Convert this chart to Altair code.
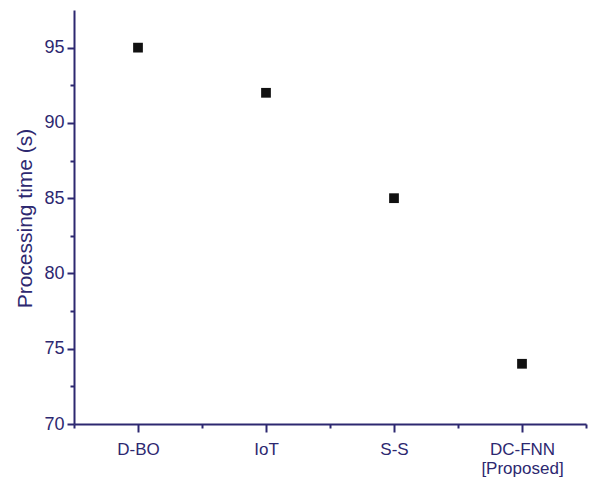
import altair as alt
import pandas as pd

methods = ["D-BO", "IoT", "S-S", "DC-FNN [Proposed]"]
times = [95, 92, 85, 74]
label_lines = [["D-BO"], ["IoT"], ["S-S"], ["DC-FNN", "[Proposed]"]]

df = pd.DataFrame({"idx": list(range(len(methods))), "method": methods, "time": times})

NAVY = "#2d2870"
FONT = "Liberation Sans"

# label expression built from the label list
parts = []
for i, lines in enumerate(label_lines):
    arr = "[" + ",".join("'" + s + "'" for s in lines) + "]"
    parts.append(f"datum.value == {i} ? {arr} : ")
x_label_expr = "".join(parts) + "''"

x_vals = [i * 0.5 - 0.5 for i in range(2 * len(methods) + 1)]
y_vals = [70 + 2.5 * i for i in range(11)]

common = dict(
    domainColor=NAVY,
    domainWidth=2,
    tickColor=NAVY,
    tickWidth=2,
    labelColor=NAVY,
    titleColor=NAVY,
    labelFont=FONT,
    titleFont=FONT,
    grid=False,
    labelFlush=False,
    labelOverlap=False,
)

chart = alt.Chart(df).mark_square(size=95, color="#111111", opacity=1).encode(
    x=alt.X(
        "idx:Q",
        scale=alt.Scale(domain=[-0.5, len(methods) - 0.5], nice=False, zero=False),
        axis=alt.Axis(
            title=None,
            values=x_vals,
            labelExpr=x_label_expr,
            tickSize={"condition": {"test": "datum.value % 1 != 0", "value": 4}, "value": 8},
            labelPadding=9,
            labelFontSize=17,
            labelLineHeight=19,
            labelBaseline="top",
            **common,
        ),
    ),
    y=alt.Y(
        "time:Q",
        scale=alt.Scale(domain=[70, 97.5], nice=False, zero=False),
        axis=alt.Axis(
            title="Processing time (s)",
            values=y_vals,
            labelExpr="datum.value % 5 == 0 ? datum.label : ''",
            tickSize={"condition": {"test": "datum.value % 5 != 0", "value": 4}, "value": 7},
            labelPadding=3,
            labelFontSize=18,
            titleFontSize=21,
            titleFontWeight="normal",
            titleX=-49,
            titleY=208,
            titleAngle=-90,
            titleAlign="center",
            titleBaseline="middle",
            **common,
        ),
    ),
).properties(
    width=512,
    height=414,
    autosize=alt.AutoSizeParams(type="none"),
    padding={"left": 74, "top": 10, "right": 6, "bottom": 54},
    background="white",
).configure_view(
    stroke=None
)

chart.save("out.html", embed_options={"renderer": "svg", "actions": False})
